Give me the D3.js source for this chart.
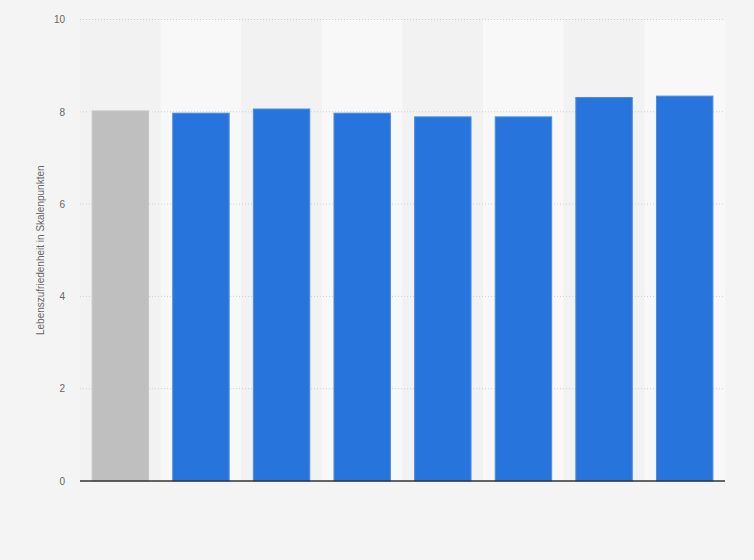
<!DOCTYPE html>
<html lang='de'>
<head>
  <meta charset='utf-8'>
  <title>Lebenszufriedenheit</title>
  <script src='https://cdn.jsdelivr.net/npm/d3@7'></script>
  <style>
    body { margin: 0; background: #f4f4f4; font-family: 'Liberation Sans', Arial, sans-serif; }
  </style>
</head>
<body>
  <script>
    // data (no category labels are shown)
    let categories = ["A", "B", "C", "D", "E", "F", "G", "H"];
    let values = [8.02, 7.97, 8.06, 7.97, 7.89, 7.89, 8.31, 8.34];
    let highlighted = [true, false, false, false, false, false, false, false];
    let yTicks = [0, 2, 4, 6, 8, 10];
    let yLabel = "Lebenszufriedenheit in Skalenpunkten";

    let width = 754, height = 560;
    let margins = { left: 80, top: 19.5, right: 29, bottom: 79 };
    let innerW = width - margins.left - margins.right;
    let innerH = height - margins.top - margins.bottom;

    let svg = d3.select("body").append("svg")
      .attr("width", width)
      .attr("height", height);
    let container = svg.append("g")
      .attr("transform", `translate(${margins.left}, ${margins.top})`);

    let x = d3.scaleBand()
      .domain(categories)
      .range([0, innerW])
      .paddingInner(0.3)
      .paddingOuter(0.15);
    let y = d3.scaleLinear()
      .domain([0, 10])
      .range([innerH, 0]);

    // alternating column backgrounds
    let half = (x.step() - x.bandwidth()) / 2;
    container.selectAll(".col").data(categories).join("rect")
      .attr("x", d => x(d) - half)
      .attr("y", 0)
      .attr("width", x.step())
      .attr("height", innerH)
      .attr("fill", (d, i) => i % 2 ? "#f8f8f8" : "#f2f2f2");

    // grid lines
    container.selectAll(".grid").data(yTicks.filter(t => t > 0)).join("line")
      .attr("x1", 0).attr("x2", innerW)
      .attr("y1", d => y(d)).attr("y2", d => y(d))
      .attr("stroke", "#cfcfcf")
      .attr("stroke-dasharray", "1,2");

    // y axis tick labels
    let yAxis = d3.axisLeft(y).tickValues(yTicks).tickSize(0).tickPadding(15);
    let yg = container.append("g").call(yAxis);
    yg.select(".domain").remove();
    yg.selectAll("text")
      .attr("fill", "#666")
      .style("font-size", "10px")
      .style("font-family", "'Liberation Sans', Arial, sans-serif");

    // bars
    container.selectAll(".bar").data(values).join("rect")
      .attr("x", (d, i) => x(categories[i]))
      .attr("y", d => y(d))
      .attr("width", x.bandwidth())
      .attr("height", d => innerH - y(d))
      .attr("fill", (d, i) => highlighted[i] ? "#bfbfbf" : "#2775dc")
      .attr("stroke", (d, i) => highlighted[i] ? "#c9c9c9" : "#4a8ce4")
      .attr("stroke-width", 1);

    // baseline
    container.append("line")
      .attr("x1", 0).attr("x2", innerW)
      .attr("y1", y(0)).attr("y2", y(0))
      .attr("stroke", "#333")
      .attr("stroke-width", 1.5);

    // y axis title
    svg.append("text")
      .attr("transform", `translate(44, ${margins.top + innerH / 2}) rotate(-90)`)
      .attr("text-anchor", "middle")
      .attr("fill", "#666")
      .style("font-size", "10px")
      .text(yLabel);
  </script>
</body>
</html>
